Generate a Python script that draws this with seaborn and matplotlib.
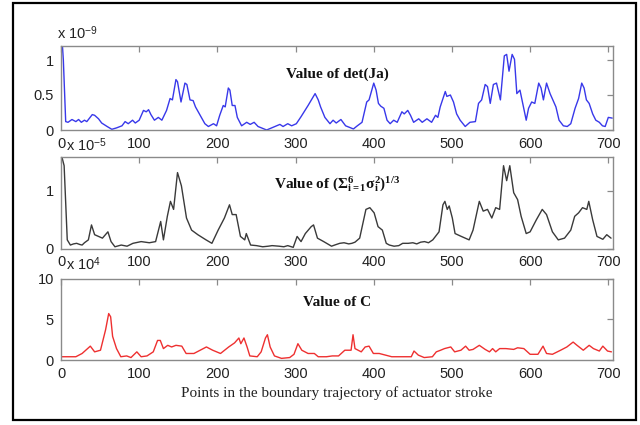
import matplotlib
matplotlib.use("Agg")
import matplotlib.pyplot as plt
from matplotlib.patches import Rectangle
import seaborn as sns
import pandas as pd

# ---------------- data ----------------
x_ticks = [0, 100, 200, 300, 400, 500, 600, 700]

# det(Ja), units of 1e-9
det_x = [1, 3, 6, 9, 14, 19, 22.5, 26, 30, 33, 40, 43, 48, 52, 59, 65, 71, 78, 82, 86,
         91.5, 95, 100, 105.5, 109, 112, 115, 119.5, 124.5, 129, 135, 139.5, 142.5, 147, 149,
         153.5, 158.5, 161, 165, 169, 172, 178, 184, 188.5, 195, 199, 203, 207.5, 210, 214,
         216, 219, 222.5, 225.5, 231, 237.5, 242, 247, 252, 263, 273.5, 280, 284, 290, 295,
         301, 307, 312, 316, 325, 329, 332, 337.5, 344, 348, 352, 358, 364, 374, 379, 385,
         391, 394, 400, 403, 406, 409, 413, 417, 421, 425.5, 430, 436, 439, 443.5, 447, 451,
         457.5, 462, 468, 474, 479, 482, 485, 491.5, 493.5, 498, 502, 506, 510.5, 517, 523,
         530, 534, 538, 542.5, 545.5, 549, 553, 557, 562, 567, 570, 573, 577, 580, 583, 587,
         591.5, 595, 598, 602, 606, 611, 614, 617, 621, 625.5, 629, 633, 637, 642.5, 647.5,
         652, 657.5, 662, 666, 669, 672, 675.5, 680, 684, 688.5, 692.5, 696, 700, 705]
det_y = [1.35, 1.0, 0.12, 0.11, 0.15, 0.12, 0.15, 0.11, 0.14, 0.12, 0.22, 0.21, 0.16, 0.10,
         0.05, 0.01, 0.03, 0.06, 0.12, 0.09, 0.14, 0.10, 0.14, 0.28, 0.26, 0.29, 0.22, 0.14,
         0.18, 0.14, 0.28, 0.45, 0.43, 0.72, 0.69, 0.40, 0.67, 0.65, 0.43, 0.42, 0.33, 0.21,
         0.09, 0.05, 0.09, 0.06, 0.21, 0.35, 0.33, 0.60, 0.57, 0.35, 0.35, 0.18, 0.06, 0.11,
         0.08, 0.11, 0.05, 0.0, 0.05, 0.08, 0.05, 0.09, 0.06, 0.09, 0.19, 0.28, 0.35, 0.52,
         0.43, 0.33, 0.18, 0.09, 0.14, 0.10, 0.15, 0.06, 0.015, 0.06, 0.11, 0.40, 0.43, 0.67,
         0.57, 0.38, 0.34, 0.31, 0.14, 0.09, 0.14, 0.11, 0.26, 0.23, 0.28, 0.21, 0.11, 0.16,
         0.11, 0.16, 0.11, 0.21, 0.18, 0.33, 0.55, 0.48, 0.50, 0.40, 0.23, 0.14, 0.05, 0.11,
         0.12, 0.38, 0.43, 0.65, 0.62, 0.38, 0.65, 0.67, 0.43, 1.06, 1.08, 0.84, 1.08, 1.01,
         0.52, 0.57, 0.33, 0.14, 0.31, 0.40, 0.38, 0.67, 0.60, 0.43, 0.67, 0.52, 0.43, 0.33,
         0.14, 0.06, 0.05, 0.09, 0.31, 0.45, 0.67, 0.60, 0.43, 0.38, 0.23, 0.14, 0.11, 0.06,
         0.05, 0.18, 0.17]

# (sum sigma_i^2)^(1/3), units of 1e-5
sig_x = [1, 4, 8, 12, 16, 20, 24, 27, 30, 35, 39, 43, 48, 53, 60, 64, 69, 77, 84.5, 92,
         102.5, 113, 121, 127.5, 131, 136, 140, 144, 149, 154, 160.5, 167, 175, 185.5, 193,
         201, 209, 215.5, 219, 224, 229.5, 235, 237, 242.5, 250, 258, 265, 270, 279, 285, 290,
         297, 302, 307, 312.5, 320, 323, 328, 336, 346, 350, 356.5, 362, 368, 372, 376, 382,
         390, 395, 400.5, 405.5, 411, 416, 420, 426, 432, 437, 444, 450, 455, 460, 465, 470,
         475.5, 483.5, 488.5, 491, 494, 496.5, 500.5, 504, 512, 522, 527, 535, 540, 545.5,
         551, 556, 561, 566, 570, 574, 579, 584, 588.5, 595, 600, 608, 615.5, 621, 628.5, 636,
         644, 652, 657, 662, 667, 672.5, 675, 680, 685.5, 693, 698, 703.5]
sig_y = [1.6, 1.44, 0.15, 0.06, 0.08, 0.09, 0.07, 0.06, 0.10, 0.15, 0.41, 0.24, 0.21, 0.18,
         0.29, 0.12, 0.03, 0.06, 0.04, 0.09, 0.12, 0.10, 0.12, 0.47, 0.15, 0.56, 0.82, 0.68,
         1.32, 1.09, 0.53, 0.32, 0.24, 0.15, 0.09, 0.32, 0.53, 0.76, 0.59, 0.59, 0.21, 0.15,
         0.26, 0.06, 0.05, 0.03, 0.04, 0.05, 0.04, 0.03, 0.05, 0.02, 0.21, 0.12, 0.26, 0.38,
         0.41, 0.18, 0.12, 0.04, 0.06, 0.09, 0.10, 0.08, 0.09, 0.11, 0.18, 0.68, 0.71, 0.62,
         0.38, 0.32, 0.09, 0.06, 0.04, 0.05, 0.09, 0.09, 0.10, 0.08, 0.11, 0.12, 0.10, 0.15,
         0.29, 0.76, 0.82, 0.68, 0.74, 0.53, 0.26, 0.21, 0.15, 0.32, 0.82, 0.65, 0.68, 0.53,
         0.71, 0.68, 1.44, 1.18, 1.44, 0.97, 0.85, 0.56, 0.26, 0.29, 0.50, 0.68, 0.59, 0.29,
         0.15, 0.18, 0.32, 0.56, 0.62, 0.71, 0.68, 0.82, 0.50, 0.21, 0.16, 0.24, 0.18]

# C, units of 1e4
c_x = [0, 19, 27, 37.5, 43, 50.5, 57, 61, 63.5, 66, 71, 76.5, 84, 89.5, 97, 102.5, 110, 118,
       123.5, 127, 131, 136.5, 141.5, 147, 154.5, 160, 170, 178, 186, 194, 204, 214.5, 222,
       227.5, 230, 234, 238, 241.5, 251, 256, 261.5, 264, 267.5, 273, 282, 292.5, 298, 303,
       308, 316, 324, 329, 339.5, 347, 355, 363, 371, 373.5, 376, 384, 389, 394, 399.5, 407,
       415, 423, 438.5, 448, 451.5, 457, 464.5, 475, 480, 485.5, 490.5, 498.5, 503.5, 511.5,
       517.5, 522, 527, 535, 542.5, 548, 552, 556, 561, 569, 579, 584, 592, 600, 610, 616.5,
       621, 628.5, 639, 647, 655, 660, 668, 675.5, 681, 688.5, 693, 699, 704]
c_y = [0.4, 0.4, 0.8, 1.7, 1.0, 1.2, 3.7, 5.7, 5.3, 2.9, 1.4, 0.4, 0.5, 0.3, 1.0, 0.4, 0.5,
       1.0, 2.4, 2.4, 1.4, 1.8, 1.6, 1.8, 1.7, 0.8, 0.8, 1.2, 1.6, 1.2, 0.8, 1.6, 2.1, 2.7,
       2.0, 2.7, 1.6, 0.5, 0.4, 1.0, 2.7, 3.1, 1.6, 0.5, 0.2, 0.3, 0.7, 2.0, 1.2, 0.8, 0.8,
       0.4, 0.4, 0.5, 0.5, 1.2, 1.2, 3.1, 1.4, 1.0, 1.6, 1.7, 0.8, 0.8, 0.6, 0.4, 0.4, 0.4,
       1.1, 0.6, 0.3, 0.4, 1.0, 1.2, 1.4, 1.6, 1.0, 1.2, 1.7, 1.2, 1.3, 1.8, 1.3, 1.0, 1.4,
       1.0, 1.4, 1.4, 1.3, 1.5, 1.4, 0.7, 0.7, 1.7, 0.8, 0.7, 1.2, 1.6, 2.2, 1.8, 1.2, 1.8,
       1.4, 1.1, 1.7, 1.1, 1.0]

titles = ["Value of det(Ja)",
          r"Value of $(\mathrm{Σ^{6}_{i=1}σ^{2}_{i}})^{\mathrm{1/3}}$",
          "Value of C"]
exponents = ["-9", "-5", "4"]
xlabel = "Points in the boundary trajectory of actuator stroke"

# ---------------- style ----------------
sns.set_style("white")
plt.rcParams["font.family"] = ["Liberation Sans", "DejaVu Sans"]
plt.rcParams["mathtext.fontset"] = "custom"
plt.rcParams["mathtext.rm"] = "Liberation Serif:bold"
plt.rcParams["mathtext.it"] = "Liberation Serif:italic:bold"
plt.rcParams["mathtext.bf"] = "Liberation Serif:bold"
plt.rcParams["mathtext.sf"] = "Liberation Sans"

W, H = 640, 425
fig = plt.figure(figsize=(6.4, 4.25), dpi=100)

def fx(px):
    return px / W

def fy(py):
    return 1 - py / H

# outer frame
fig.patches.append(Rectangle((fx(12.5), fy(420)), fx(636) - fx(12.5), fy(3) - fy(420),
                             transform=fig.transFigure, fill=False, edgecolor="black",
                             linewidth=1.6))

ax_left, ax_right = 61, 613
boxes = [(46, 130), (156.5, 248.5), (278.5, 360)]
series = [(det_x, det_y), (sig_x, sig_y), (c_x, c_y)]
colors = ["#3838ea", "#3a3a3a", "#ee3030"]
ylims = [(0, 1.2), (0, 1.6), (0, 10)]
yticks = [[0, 0.5, 1], [0, 1], [0, 5, 10]]
yticklabels = [["0", "0.5", "1"], ["0", "1"], ["0", "5", "10"]]
title_y = [0.66, 0.70, 0.71]
expo_pos = [(57, 33), (66, 145), (66, 264)]

axes = []
for i, ((top, bot), (xs, ys)) in enumerate(zip(boxes, series)):
    ax = fig.add_axes([fx(ax_left), fy(bot), fx(ax_right) - fx(ax_left), fy(top) - fy(bot)])
    df = pd.DataFrame({"x": xs, "y": ys})
    sns.lineplot(data=df, x="x", y="y", ax=ax, color=colors[i], linewidth=1.0,
                 estimator=None, sort=False)
    ax.set_xlim(0, 706)
    ax.set_ylim(*ylims[i])
    ax.set_xticks(x_ticks)
    ax.set_xticklabels([str(t) for t in x_ticks])
    ax.set_yticks(yticks[i])
    ax.set_yticklabels(yticklabels[i])
    ax.set_xlabel("")
    ax.set_ylabel("")
    for s in ax.spines.values():
        s.set_visible(True)
        s.set_color("#8a8a8a")
        s.set_linewidth(1.0)
    ax.tick_params(direction="in", length=4, width=0.9, color="#8a8a8a",
                   top=True, right=True, labelsize=10.5, labelcolor="#222222")
    ax.tick_params(axis="x", pad=5)
    ax.tick_params(axis="y", pad=5)
    ax.text(0.5, title_y[i], titles[i], transform=ax.transAxes, ha="center", va="center",
            fontsize=11, fontweight="bold", family="Liberation Serif", color="#111111")
    ex, ey = expo_pos[i]
    fig.text(fx(ex), fy(ey), "x 10$^{\\mathsf{" + exponents[i] + "}}$",
             ha="left", va="center", fontsize=10.5, color="#222222")
    axes.append(ax)

axes[-1].set_xlabel(xlabel, family="Liberation Serif", fontsize=11, color="#222222",
                    labelpad=4)

fig.savefig("out.png", dpi=100)
